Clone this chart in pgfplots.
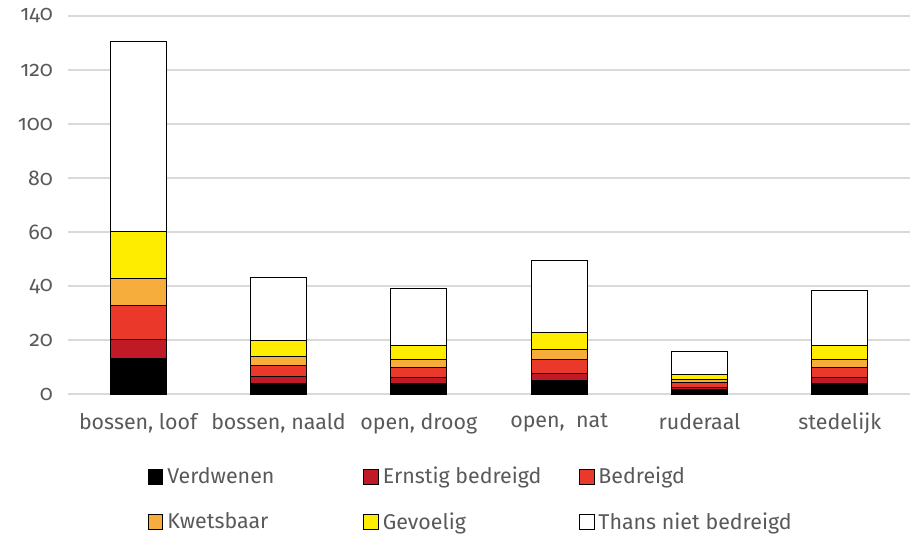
\documentclass[border=0pt]{standalone}
\usepackage{fontspec}
\setmainfont{Fira Sans}[Numbers=OldStyle]
\usepackage{pgfplots}
\pgfplotsset{compat=1.18}
\definecolor{txt}{RGB}{89,89,89}
\definecolor{gridc}{RGB}{217,217,217}
\definecolor{cVerd}{RGB}{0,0,0}
\definecolor{cErn}{RGB}{192,26,38}
\definecolor{cBed}{RGB}{234,56,42}
\definecolor{cKw}{RGB}{246,173,60}
\definecolor{cGev}{RGB}{255,237,0}
\definecolor{cTh}{RGB}{255,255,255}
\newcommand{\legbox}[1]{\makebox[96pt][l]{#1}}
\begin{document}
\begin{tikzpicture}
\begin{axis}[
  scale only axis, width=421pt, height=189pt,
  xmin=-0.5, xmax=5.5, ymin=0, ymax=140,
  ybar stacked, bar width=0.4,
  xtick={0,1,2,3,4,5},
  xticklabels={{bossen, loof},{bossen, naald},{open, droog},{open,\ \ nat},{ruderaal},{stedelijk}},
  ytick={0,20,...,140},
  ymajorgrids, grid style={draw=gridc, line width=0.7pt},
  axis x line*=bottom, axis y line*=left,
  x axis line style={draw=gridc, line width=0.7pt, -},
  y axis line style={draw=none},
  major tick length=0pt,
  tick label style={font=\fontsize{10.7}{12}\selectfont, text=txt},
  /pgf/number format/assume math mode=true,
  xticklabel style={yshift=-6pt},
  yticklabel style={xshift=-4pt},
  every axis plot/.append style={draw=black, line width=0.5pt},
  legend columns=3,
  legend style={draw=none, fill=none, at={(axis description cs:0.087,-0.17)}, anchor=north west,
    font=\fontsize{10.7}{12}\selectfont, text=txt,
    /tikz/every odd column/.append style={column sep=0pt},
    row sep=9pt},
  legend image code/.code={\draw[#1,draw=black,line width=0.4pt] (0pt,-3.7pt) rectangle (7.4pt,3.7pt);},
]
\addplot[fill=cVerd] coordinates {(0,13) (1,4) (2,4) (3,5) (4,1.7) (5,4)};
\addplot[fill=cErn] coordinates {(0,7.2) (1,2.3) (2,2) (3,2.6) (4,0.8) (5,2)};
\addplot[fill=cBed] coordinates {(0,12.6) (1,4.3) (2,3.9) (3,5) (4,1.6) (5,3.9)};
\addplot[fill=cKw] coordinates {(0,10) (1,3.3) (2,3) (3,3.7) (4,1.2) (5,2.8)};
\addplot[fill=cGev] coordinates {(0,17.5) (1,6) (2,5.1) (3,6.5) (4,2.1) (5,5.1)};
\addplot[fill=cTh] coordinates {(0,70.4) (1,23.3) (2,21.2) (3,26.7) (4,8.5) (5,20.7)};
\legend{\legbox{Verdwenen}, \legbox{Ernstig bedreigd}, \legbox{Bedreigd}, \legbox{Kwetsbaar}, \legbox{Gevoelig}, \legbox{Thans niet bedreigd}}
\end{axis}
\pgfresetboundingbox
\path ([xshift=-34pt,yshift=-71pt]current axis.south west) rectangle ([yshift=8pt]current axis.north east);
\end{tikzpicture}
\end{document}
